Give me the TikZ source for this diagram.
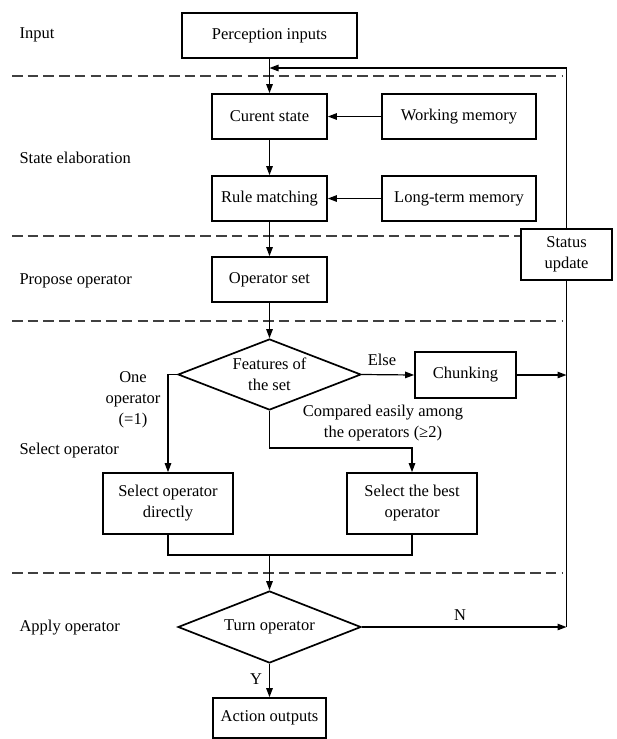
\documentclass[tikz,border=0pt]{standalone}
\usepackage{fontspec}
\setmainfont{Liberation Serif}
\usetikzlibrary{arrows.meta,shapes.geometric}
\begin{document}
\begin{tikzpicture}[x=1pt,y=-1pt,
  every node/.style={font=\fontsize{16.5}{21}\selectfont},
  box/.style={draw,line width=1.7pt,align=center,inner sep=0pt},
  choice/.style={draw,line width=1.7pt,diamond,aspect=2.58,inner sep=0pt,align=center,
    minimum width=183pt,minimum height=71pt},
  conn/.style={line width=1.2pt},
  arr/.style={conn,-{Triangle[length=9pt,width=6.5pt]}},
  stage/.style={anchor=base west},
  sep/.style={line width=1.3pt,draw=black!75,dash pattern=on 10.5pt off 5.2pt},
  lbl/.style={align=center,inner sep=0pt}]
\useasboundingbox (0,0) rectangle (617,739);

% stage dividers
\draw[sep] (12,76) -- (563,76);
\draw[sep] (12,236) -- (521,236);
\draw[sep] (12,321) -- (563,321);
\draw[sep] (12,573) -- (563,573);

% stage names
\node[stage] (lin)  at (16,38.5) {Input};
\node[stage] (lse)  at (16,163.5) {State elaboration};
\node[stage] (lpo)  at (16,284.5) {Propose operator};
\node[stage] (lso)  at (16,454.5) {Select operator};
\node[stage] (lao)  at (16,631.5) {Apply operator};

% blocks
\node[box,minimum width=175pt,minimum height=45pt] (perc) at (269.5,35.5) {Perception inputs};
\node[box,minimum width=115pt,minimum height=45pt] (cur) at (269.5,116.5) {Curent state};
\node[box,minimum width=154pt,minimum height=45pt] (wm) at (459,116.5) {Working memory};
\node[box,minimum width=115pt,minimum height=45pt] (rule) at (269.5,198.5) {Rule matching};
\node[box,minimum width=154pt,minimum height=45pt] (ltm) at (459,198.5) {Long-term memory};
\node[box,minimum width=91pt,minimum height=51pt] (status) at (566.5,254.5) {Status\\update};
\node[box,minimum width=115pt,minimum height=45pt] (opset) at (269.5,279.5) {Operator set};
\node[choice] (feat) at (269.5,374.5) {Features of\\the set};
\node[box,minimum width=101pt,minimum height=46pt] (chunk) at (465.5,375) {Chunking};
\node[box,minimum width=130pt,minimum height=61pt] (seldir) at (168,503.5) {Select operator\\directly};
\node[box,minimum width=130pt,minimum height=61pt] (selbest) at (412,503.5) {Select the best\\operator};
\node[choice,minimum height=72pt] (turn) at (269.5,627) {Turn operator};
\node[box,minimum width=113pt,minimum height=40pt] (act) at (269.5,718) {Action outputs};

% junction points
\coordinate (fb) at (269.5,68);
\coordinate (chR) at (566.5,375);
\coordinate (nR) at (566.5,627);
\coordinate (brY) at (269.5,448);
\coordinate (mrg) at (269.5,555);

% connectors
\draw[arr] (perc.south) -- (cur.north);
\draw[arr] (status.north) |- (fb);
\draw[arr] (wm.west) -- (cur.east);
\draw[arr] (cur.south) -- (rule.north);
\draw[arr] (ltm.west) -- (rule.east);
\draw[arr] (rule.south) -- (opset.north);
\draw[arr] (opset.south) -- (feat.north);
\draw[arr] (feat.east) -- (chunk.west);
\draw[arr] (chunk.east) -- (chR);
\draw[arr] (feat.west) -- ++(-10,0) -| (seldir.north);
\draw[arr] (feat.south) -- (brY) -| (selbest.north);
\draw[conn] (seldir.south) |- (mrg) -| (selbest.south);
\draw[arr] (mrg) -- (turn.north);
\draw[arr] (turn.east) -- (nR);
\draw[conn] (status.south) -- (nR);
\draw[arr] (turn.south) -- (act.north);

% branch labels
\node[lbl] (else) at (382,360) {Else};
\node[lbl] (one) at (133,400) {One\\operator\\(=1)};
\node[lbl] (cmp) at (383,423) {Compared easily among\\the operators (≥2)};
\node[lbl] (nn) at (460,615) {N};
\node[lbl] (yy) at (256,679) {Y};
\end{tikzpicture}
\end{document}
